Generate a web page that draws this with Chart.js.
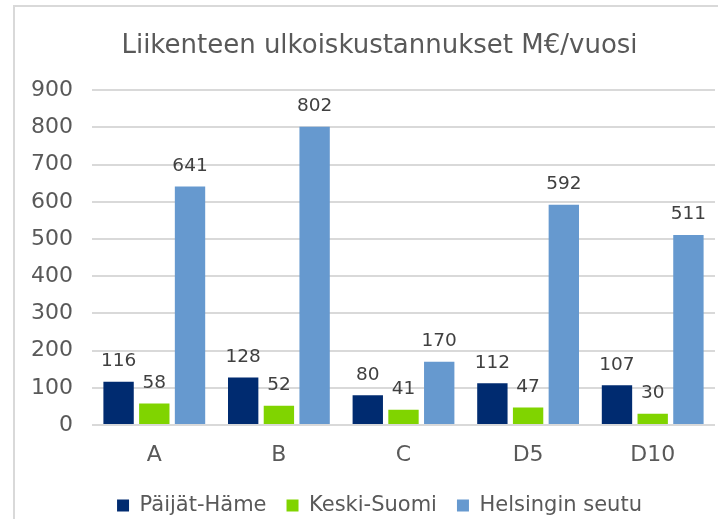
<!DOCTYPE html>
<html>
<head>
<meta charset="utf-8">
<script src="https://cdn.jsdelivr.net/npm/chart.js@4"></script>
<style>
  body { margin: 0; background: #fff; }
  #frame { position: absolute; left: 13px; top: 5px; width: 800px; height: 600px; border: 2px solid #d9d9d9; }
  #wrap { position: absolute; left: 0; top: 0; width: 718px; height: 519px; }
</style>
</head>
<body>
<div id="frame"></div>
<div id="wrap"><canvas id="myChart" width="718" height="519"></canvas></div>
<script>
const categories = ['A', 'B', 'C', 'D5', 'D10'];
const paijatHame = [116, 128, 80, 112, 107];
const keskiSuomi = [58, 52, 41, 47, 30];
const helsinginSeutu = [641, 802, 170, 592, 511];

const fontName = 'DejaVu Sans';

// writes the value above every bar
const valueLabels = {
    id: 'valueLabels',
    afterDatasetsDraw(chart) {
        const ctx = chart.ctx;
        ctx.save();
        ctx.font = '18.5px "' + fontName + '"';
        ctx.fillStyle = '#404040';
        ctx.textAlign = 'center';
        ctx.textBaseline = 'bottom';
        chart.data.datasets.forEach((ds, i) => {
            chart.getDatasetMeta(i).data.forEach((bar, j) => {
                ctx.fillText(ds.data[j], bar.x, bar.y - 11);
            });
        });
        ctx.restore();
    }
};

function mainEvent() {
    Chart.defaults.font.family = fontName;
    const chartArea = document.querySelector('#myChart');
    return new Chart(chartArea, {
        type: 'bar',
        data: {
            labels: categories,
            datasets: [
                { label: 'Päijät-Häme', data: paijatHame, backgroundColor: '#002B70' },
                { label: 'Keski-Suomi', data: keskiSuomi, backgroundColor: '#80D400' },
                { label: 'Helsingin seutu', data: helsinginSeutu, backgroundColor: '#6699CF' }
            ]
        },
        options: {
            responsive: false,
            animation: false,
            layout: { padding: { left: 44, right: 3, top: 0, bottom: -7 } },
            datasets: { bar: { categoryPercentage: 0.86, barPercentage: 0.85 } },
            plugins: {
                title: {
                    display: true,
                    text: 'Liikenteen ulkoiskustannukset M€/vuosi',
                    color: '#595959',
                    font: { size: 26, weight: 'normal' },
                    padding: { top: 31, bottom: 28 }
                },
                legend: {
                    position: 'bottom',
                    labels: {
                        color: '#595959',
                        font: { size: 21 },
                        boxWidth: 12,
                        boxHeight: 12,
                        padding: 20
                    }
                },
                tooltip: { enabled: false }
            },
            scales: {
                x: {
                    grid: { display: false },
                    border: { display: false },
                    ticks: { color: '#595959', font: { size: 22 }, padding: 9 },
                    afterFit: (axis) => { axis.height = 50; }
                },
                y: {
                    min: 0,
                    max: 900,
                    // mirrored so the labels may sit left of the narrow axis box without clipping
                    ticks: { stepSize: 100, color: '#595959', font: { size: 22 }, mirror: true, crossAlign: 'far', padding: -61 },
                    grid: { color: '#d9d9d9', lineWidth: 2, drawTicks: false },
                    border: { display: false },
                    afterFit: (axis) => { axis.width = 48; }
                }
            }
        },
        plugins: [valueLabels]
    });
}

document.addEventListener('DOMContentLoaded', () => mainEvent());
</script>
</body>
</html>
